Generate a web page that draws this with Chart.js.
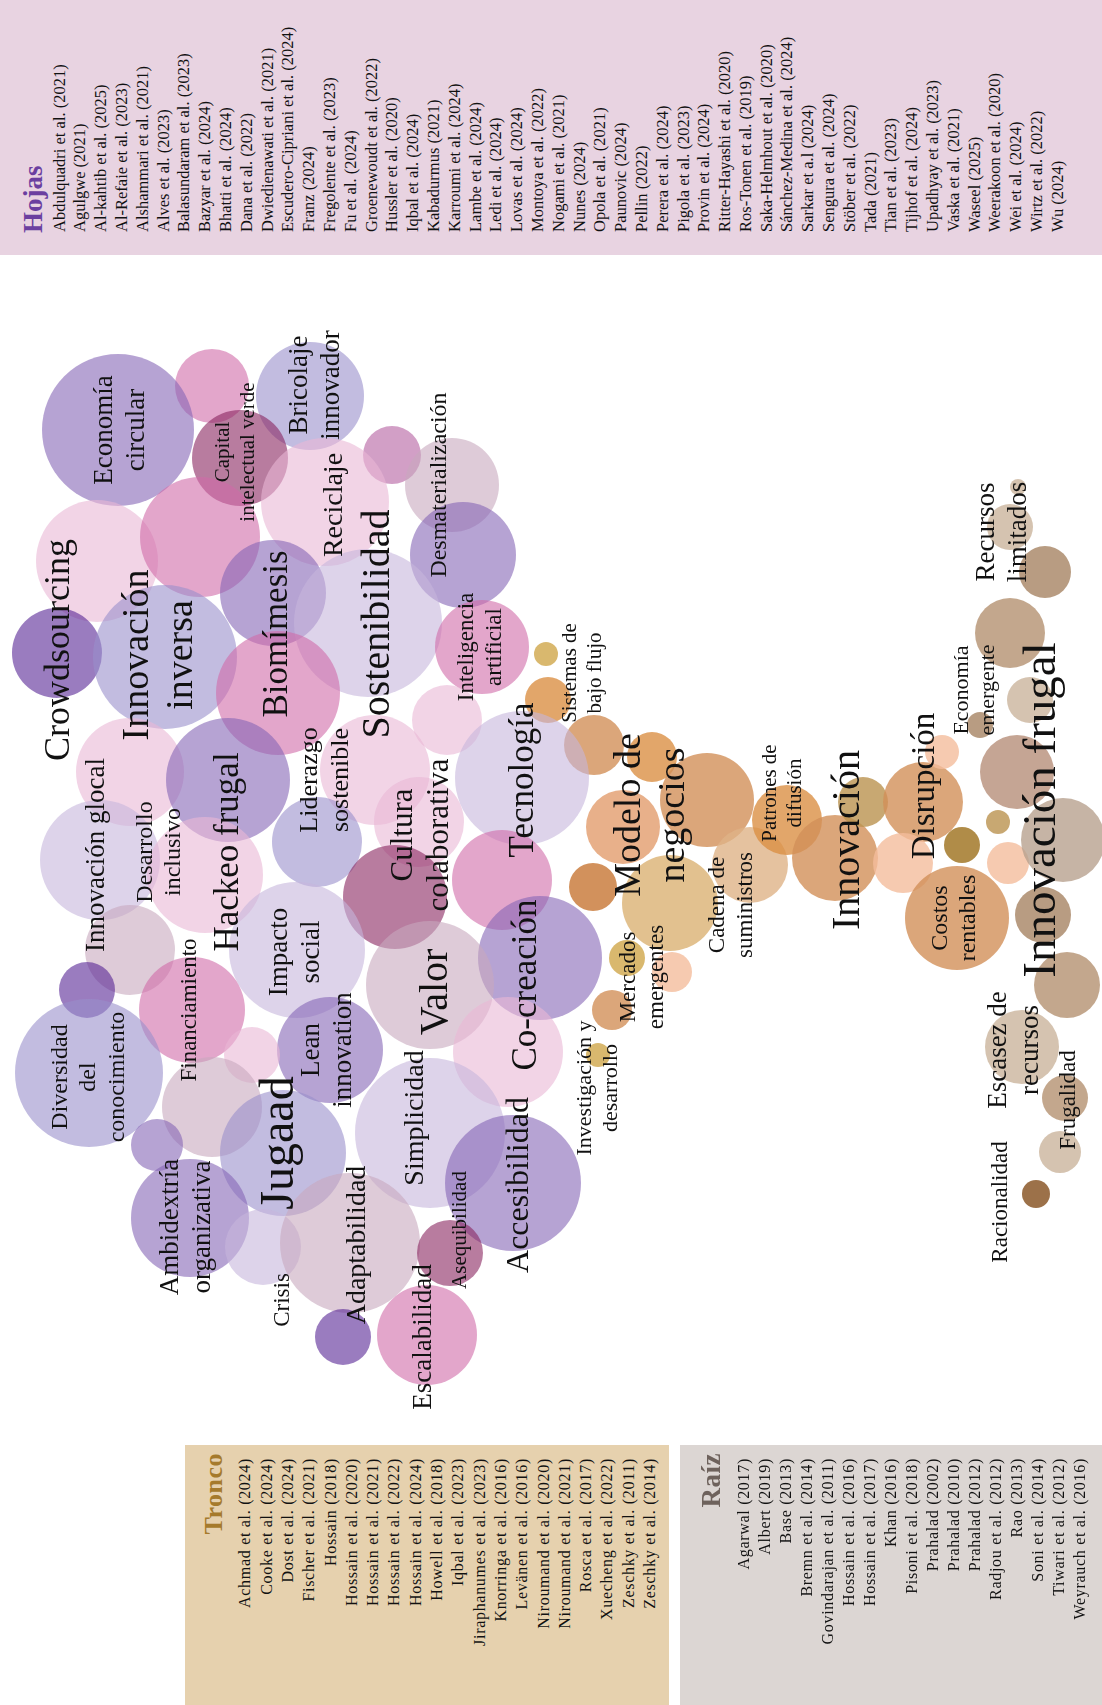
<!DOCTYPE html>
<html lang="es">
<head>
<meta charset="utf-8">
<title>Innovación frugal</title>
<script src="https://cdn.jsdelivr.net/npm/chart.js@4.4.1/dist/chart.umd.min.js"></script>
<style>
  html, body { margin: 0; padding: 0; background: #fff; }
  #page { position: relative; width: 1102px; height: 1705px; overflow: hidden; font-family: 'Liberation Serif', 'Times New Roman', serif; }
  #bubbles { position: absolute; left: 0; top: 0; }
  .panel { position: absolute; overflow: hidden; }
  .panel .inner { position: absolute; left: 0; top: 0; transform-origin: 0 0; color: #111; white-space: nowrap; }
  .panel .titulo { position: absolute; left: 0; right: 0; font-weight: bold; }
  .panel .lista { position: absolute; left: 0; right: 0; }
</style>
</head>
<body>
<div id="page">
  <canvas id="bubbles" width="1102" height="1705"></canvas>
  <div class="panel" id="hojas"></div>
  <div class="panel" id="tronco"></div>
  <div class="panel" id="raiz"></div>
</div>
<script>
// referencias de cada parte del arbol
const hojasRefs = [
  'Abdulquadri et al. (2021)', 'Agulgwe (2021)', 'Al-kahtib et al. (2025)', 'Al-Refaie et al. (2023)',
  'Alshammari et al. (2021)', 'Alves et al. (2023)', 'Balasundaram et al. (2023)', 'Bazyar et al. (2024)',
  'Bhatti et al. (2024)', 'Dana et al. (2022)', 'Dwiedienawati et al. (2021)', 'Escudero-Cipriani et al. (2024)',
  'Franz (2024)', 'Fregolente et al. (2023)', 'Fu et al. (2024)', 'Groenewoudt et al. (2022)',
  'Hussler et al. (2020)', 'Iqbal et al. (2024)', 'Kabadurmus (2021)', 'Karroumi et al. (2024)',
  'Lambe et al. (2024)', 'Ledi et al. (2024)', 'Lovas et al. (2024)', 'Montoya et al. (2022)',
  'Nogami et al. (2021)', 'Nunes (2024)', 'Opola et al. (2021)', 'Paunovic (2024)', 'Pellin (2022)',
  'Perera et al. (2024)', 'Pigola et al. (2023)', 'Provin et al. (2024)', 'Ritter-Hayashi et al. (2020)',
  'Ros-Tonen et al. (2019)', 'Saka-Helmhout et al. (2020)', 'Sánchez-Medina et al. (2024)', 'Sarkar et a.l (2024)',
  'Sengura et al. (2024)', 'Stöber et al. (2022)', 'Tada (2021)', 'Tian et al. (2023)', 'Tijhof et al. (2024)',
  'Upadhyay et al. (2023)', 'Vaska et al. (2021)', 'Waseel (2025)', 'Weerakoon et al. (2020)',
  'Wei et al. (2024)', 'Wirtz et al. (2022)', 'Wu (2024)'
];
const troncoRefs = [
  'Achmad et al. (2024)', 'Cooke et al. (2024)', 'Dost et al. (2024)', 'Fischer et al. (2021)', 'Hossain (2018)',
  'Hossain et al. (2020)', 'Hossain et al. (2021)', 'Hossain et al. (2022)', 'Hossain et al. (2024)',
  'Howell et al. (2018)', 'Iqbal et al. (2023)', 'Jiraphanumes et al. (2023)', 'Knorringa et al. (2016)',
  'Levänen et al. (2016)', 'Niroumand et al. (2020)', 'Niroumand et al. (2021)', 'Rosca et al. (2017)',
  'Xuecheng et al. (2022)', 'Zeschky et al. (2011)', 'Zeschky et al. (2014)'
];
const raizRefs = [
  'Agarwal (2017)', 'Albert (2019)', 'Base (2013)', 'Bremn et al. (2014)', 'Govindarajan et al. (2011)',
  'Hossain et al. (2016)', 'Hossain et al. (2017)', 'Khan (2016)', 'Pisoni et al. (2018)', 'Prahalad (2002)',
  'Prahalad (2010)', 'Prahalad (2012)', 'Radjou et al. (2012)', 'Rao (2013)', 'Soni et al. (2014)',
  'Tiwari et al. (2012)', 'Weyrauch et al. (2016)'
];

// burbujas moradas / rosas (hojas)
const hojasX = [212, 118, 310, 240, 392, 452, 325, 97, 200, 463, 273, 57, 165, 368, 482, 278, 447, 375,
  130, 228, 522, 419, 100, 205, 317, 395, 502, 540, 430, 297, 130, 87, 192, 89, 330, 252, 508, 212, 157,
  283, 430, 190, 263, 350, 513, 450, 343, 427];
const hojasY = [386, 430, 396, 458, 455, 485, 502, 561, 537, 555, 593, 653, 657, 623, 647, 693, 720, 770,
  772, 780, 778, 822, 860, 875, 842, 897, 880, 958, 985, 950, 950, 990, 1010, 1073, 1050, 1055, 1052, 1107, 1145,
  1153, 1133, 1218, 1247, 1243, 1183, 1253, 1337, 1335];
const hojasR = [37, 76, 54, 48, 29, 47, 64, 61, 60, 53, 53, 45, 72, 74, 47, 62, 35, 55,
  54, 62, 67, 45, 60, 58, 45, 52, 50, 62, 64, 68, 45, 28, 53, 74, 53, 28, 55, 50, 26,
  63, 75, 59, 38, 70, 68, 33, 28, 50];
const hojasTono = ['pink', 'purple', 'lav', 'mauve', 'mpink', 'lmauve', 'lpink', 'lpink', 'pink', 'purple', 'purple',
  'dpurple', 'lav', 'llav', 'pink', 'pink', 'lpink', 'lpink',
  'lpink', 'purple', 'llav', 'lpink', 'llav', 'lpink', 'lav', 'mauve', 'pink', 'purple', 'lmauve', 'llav',
  'lmauve', 'dpurple', 'pink', 'lav', 'purple', 'lpink', 'lpink', 'lmauve', 'purple',
  'lav', 'llav', 'purple', 'llav', 'lmauve', 'purple', 'mauve', 'dpurple', 'pink'];

// burbujas marrones / ocres (tronco y raiz)
const frugalX = [546, 548, 594, 652, 707, 623, 593, 670, 750, 787, 835, 863, 627, 672, 612, 598,
  923, 942, 903, 962, 998, 1008, 957, 1043, 1017, 1063, 1067, 1022, 1065, 1060, 1036,
  1018, 1010, 1045, 1010, 1030, 980];
const frugalY = [654, 700, 745, 757, 800, 827, 887, 903, 865, 820, 858, 802, 958, 972, 1010, 1055,
  802, 752, 863, 845, 822, 863, 918, 915, 772, 840, 985, 1047, 1098, 1152, 1194,
  487, 527, 572, 633, 700, 725];
const frugalR = [12, 23, 30, 25, 47, 37, 24, 48, 38, 35, 43, 25, 18, 20, 20, 12,
  40, 17, 30, 18, 12, 21, 52, 28, 37, 42, 33, 37, 23, 21, 14,
  8, 23, 26, 35, 23, 13];
const frugalTono = ['ochre', 'orange', 'tan', 'orange', 'tan', 'peachor', 'dorange', 'ytan', 'ltan2', 'orange',
  'tan', 'olive', 'ochre', 'peach', 'tan', 'ochre',
  'tan', 'peach', 'peach', 'dolive', 'olive', 'peach', 'tan', 'taupe', 'rtan', 'gtan', 'taupe2', 'ltan',
  'taupe2', 'ltan', 'brown',
  'ltan', 'ltan', 'taupe', 'taupe2', 'ltan', 'taupe'];

// etiquetas de conceptos
const labelText = ['Crowdsourcing', 'Economía\ncircular', 'Innovación\ninversa', 'Capital\nintelectual verde',
  'Bricolaje\ninnovador', 'Reciclaje', 'Biomímesis', 'Sostenibilidad', 'Desmaterialización',
  'Inteligencia\nartificial', 'Sistemas de\nbajo flujo', 'Innovación glocal', 'Desarrollo\ninclusivo',
  'Hackeo frugal', 'Liderazgo\nsostenible', 'Impacto\nsocial', 'Financiamiento', 'Diversidad\ndel\nconocimiento',
  'Lean\ninnovation', 'Jugaad', 'Ambidextría\norganizativa', 'Crisis', 'Adaptabilidad', 'Simplicidad', 'Valor',
  'Cultura\ncolaborativa', 'Tecnología', 'Co-creación', 'Modelo de\nnegocios', 'Mercados\nemergentes',
  'Investigación y\ndesarrollo', 'Cadena de\nsuministros', 'Patrones de\ndifusión', 'Innovación', 'Disrupción',
  'Economía\nemergente', 'Recursos\nlimitados', 'Innovación frugal', 'Costos\nrentables', 'Escasez de\nrecursos',
  'Frugalidad', 'Racionalidad', 'Escalabilidad', 'Asequibilidad', 'Accesibilidad'];
const labelX = [60, 121, 160, 236, 316, 335, 278, 378, 440, 481, 583, 97, 160, 229, 326, 296, 190, 89,
  328, 280, 187, 283, 358, 416, 436, 422, 524, 527, 652, 643, 598, 732, 783, 848, 925,
  975, 1003, 1043, 955, 1015, 1069, 1001, 424, 460, 520];
const labelY = [650, 430, 655, 452, 385, 505, 634, 624, 485, 647, 673, 855, 852, 852, 780, 952, 1010, 1077,
  1050, 1143, 1227, 1300, 1245, 1118, 992, 835, 780, 985, 815, 977, 1088, 905, 793, 840, 786,
  690, 532, 810, 918, 1050, 1100, 1202, 1337, 1230, 1185];
const labelSize = [36, 27, 38, 21, 27, 28, 35, 40, 24, 23, 21, 27, 24, 35, 26, 27, 23, 24,
  27, 48, 27, 23, 28, 28, 40, 31, 35, 35, 38, 23, 22, 23, 21, 40, 33,
  22, 27, 47, 24, 27, 23, 23, 27, 21, 32];

const colores = {
  lav: '#c2bce0', purple: '#b6a3d3', dpurple: '#9a7cbf', pink: '#e3a6cb', lpink: '#f2d4e6',
  mauve: '#b87c9f', lmauve: '#decbd8', llav: '#ddd3ea', mpink: '#d29fc6',
  ochre: '#d9b86e', orange: '#e2a66a', tan: '#dba67a', peachor: '#e8b08a', dorange: '#d2915c',
  ytan: '#e2c18f', ltan2: '#e5c29f', olive: '#c8a872', peach: '#f6cab0', dolive: '#b08c48',
  taupe: '#b89c82', rtan: '#c5a594', gtan: '#c6b4a5', taupe2: '#c3a78d', ltan: '#d5c3b0', brown: '#9c7149'
};

// color translucido que sobre blanco da el tono observado
function tinte(hex, a) {
  const n = parseInt(hex.slice(1), 16);
  const c = [n >> 16, (n >> 8) & 255, n & 255].map(v => Math.max(0, Math.round(255 - (255 - v) / a)));
  return `rgba(${c[0]},${c[1]},${c[2]},${a})`;
}

function puntos(xs, ys, rs) {
  return xs.map((x, i) => ({ x: x, y: ys[i], r: rs[i] }));
}

const etiquetas = {
  id: 'etiquetas',
  afterDatasetsDraw(chart) {
    const ctx = chart.ctx;
    const sx = chart.scales.x, sy = chart.scales.y;
    ctx.save();
    ctx.fillStyle = '#111';
    ctx.textAlign = 'center';
    ctx.textBaseline = 'middle';
    labelText.forEach((t, i) => {
      const lines = t.split('\n');
      const s = labelSize[i];
      const lh = s * 1.18;
      ctx.save();
      ctx.translate(sx.getPixelForValue(labelX[i]), sy.getPixelForValue(labelY[i]));
      ctx.rotate(-Math.PI / 2);
      ctx.font = s + 'px "Liberation Serif", serif';
      lines.forEach((ln, k) => ctx.fillText(ln, 0, (k - (lines.length - 1) / 2) * lh));
      ctx.restore();
    });
    ctx.restore();
  }
};

new Chart(document.getElementById('bubbles'), {
  type: 'bubble',
  data: {
    datasets: [
      {
        data: puntos(hojasX, hojasY, hojasR),
        backgroundColor: hojasTono.map(t => tinte(colores[t], 0.6)),
        borderWidth: 0,
        clip: false
      },
      {
        data: puntos(frugalX, frugalY, frugalR),
        backgroundColor: frugalTono.map(t => tinte(colores[t], 0.8)),
        borderWidth: 0,
        clip: false
      }
    ]
  },
  options: {
    responsive: false,
    animation: false,
    events: [],
    layout: { padding: 0, autoPadding: false },
    plugins: { legend: { display: false }, tooltip: { enabled: false } },
    scales: {
      x: { type: 'linear', min: 0, max: 1102, display: false },
      y: { type: 'linear', min: 0, max: 1705, reverse: true, display: false }
    }
  },
  plugins: [etiquetas]
});

// paneles de referencias, texto girado para leerse de abajo hacia arriba
function panel(id, box, titulo, refs, o) {
  const el = document.getElementById(id);
  el.style.left = box.x + 'px';
  el.style.top = box.y + 'px';
  el.style.width = box.w + 'px';
  el.style.height = box.h + 'px';
  el.style.background = o.fondo;

  const inner = document.createElement('div');
  inner.className = 'inner';
  inner.style.width = box.h + 'px';
  inner.style.height = box.w + 'px';
  inner.style.transform = `translateY(${box.h}px) rotate(-90deg)`;
  inner.style.textAlign = o.align;

  const t = document.createElement('div');
  t.className = 'titulo';
  t.textContent = titulo;
  t.style.fontSize = o.tamTitulo + 'px';
  t.style.lineHeight = '30px';
  t.style.top = (o.centroTitulo - 15) + 'px';
  t.style.color = o.colorTitulo;
  t.style.letterSpacing = o.espTitulo + 'px';
  t.style.padding = `0 ${o.padTitulo}px 0 ${o.padTitulo}px`;

  const l = document.createElement('div');
  l.className = 'lista';
  l.style.fontSize = o.tam + 'px';
  l.style.lineHeight = o.paso + 'px';
  l.style.top = (o.primero - o.paso / 2) + 'px';
  l.style.letterSpacing = o.esp + 'px';
  l.style.padding = `0 ${o.pad}px 0 ${o.pad}px`;
  refs.forEach(r => {
    const d = document.createElement('div');
    d.textContent = r;
    l.appendChild(d);
  });

  inner.appendChild(t);
  inner.appendChild(l);
  el.appendChild(inner);
}

panel('hojas', { x: 0, y: 0, w: 1102, h: 255 }, 'Hojas', hojasRefs, {
  fondo: '#e8d3e1', align: 'left', colorTitulo: '#6b3fa0', tamTitulo: 27, espTitulo: 0, centroTitulo: 33,
  padTitulo: 22, tam: 16.5, paso: 20.8, primero: 60, esp: 0, pad: 23
});
panel('tronco', { x: 185, y: 1445, w: 484, h: 260 }, 'Tronco', troncoRefs, {
  fondo: '#e6d1ae', align: 'right', colorTitulo: '#a57a2c', tamTitulo: 26, espTitulo: 0.5, centroTitulo: 29,
  padTitulo: 8, tam: 16, paso: 21.3, primero: 60, esp: 0.7, pad: 13
});
panel('raiz', { x: 680, y: 1445, w: 422, h: 260 }, 'Raíz', raizRefs, {
  fondo: '#dcd6d3', align: 'right', colorTitulo: '#6e625c', tamTitulo: 27, espTitulo: 0.5, centroTitulo: 31,
  padTitulo: 8, tam: 16, paso: 21, primero: 63, esp: 0.7, pad: 13
});
</script>
</body>
</html>
